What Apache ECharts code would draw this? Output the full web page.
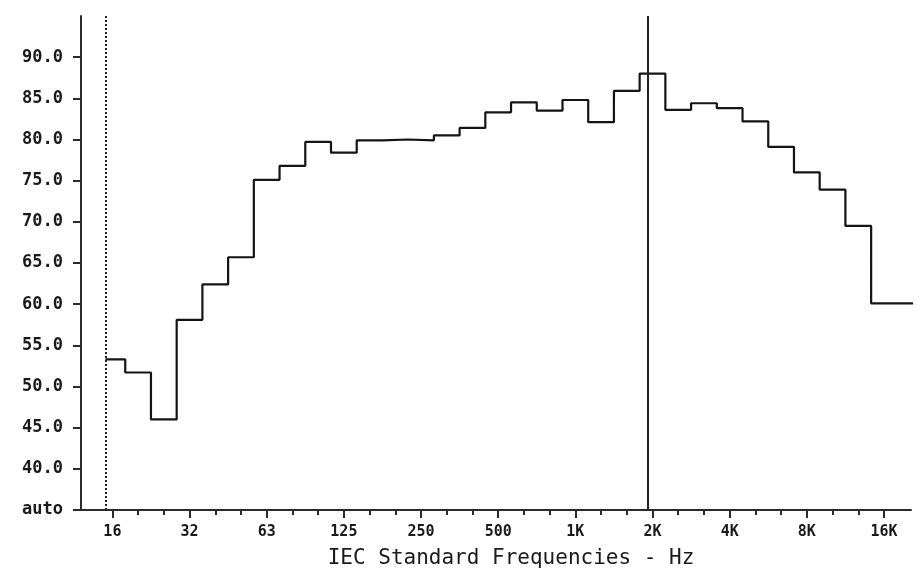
<!DOCTYPE html>
<html>
<head>
<meta charset="utf-8">
<title>IEC 1/3-octave spectrum</title>
<script src="https://cdn.jsdelivr.net/npm/echarts@6/dist/echarts.min.js"></script>
<style>
  html, body { margin: 0; padding: 0; background: #ffffff; }
  #chart { width: 920px; height: 577px; }
</style>
</head>
<body>
<div id="chart"></div>
<script>
// One-third-octave band centres (IEC nominal), lowest band first
const bandNames = ['16', '20', '25', '31.5', '40', '50', '63', '80', '100', '125',
  '160', '200', '250', '315', '400', '500', '630', '800', '1K', '1.25K',
  '1.6K', '2K', '2.5K', '3.15K', '4K', '5K', '6.3K', '8K', '10K', '12.5K',
  '16K', '20K'];

// Band levels, dB
const bandLevels = [53.3, 51.7, 46.0, 58.1, 62.4, 65.7, 75.1, 76.8, 79.7, 78.4,
  79.9, 80.0, 79.9, 80.5, 81.4, 83.3, 84.5, 83.5, 84.8, 82.1,
  85.9, 88.0, 83.6, 84.4, 83.8, 82.2, 79.1, 76.0, 73.9, 69.5,
  60.1, 60.1];

// Octave labels on the frequency axis (every third band, starting at 16 Hz)
const xTickLabels = ['16', '32', '63', '125', '250', '500', '1K', '2K', '4K', '8K', '16K'];

// Level axis labels; the bottom of the scale reads "auto"
const yTickValues = [35, 40, 45, 50, 55, 60, 65, 70, 75, 80, 85, 90];
const yTickLabels = ['auto', '40.0', '45.0', '50.0', '55.0', '60.0', '65.0', '70.0', '75.0', '80.0', '85.0', '90.0'];

// Cursor positions, in band units (0 = 16 Hz band)
const lowCursor = -0.27;
const highCursor = 20.8;

// Axis positions in band units
const majorTicks = xTickLabels.map((_, i) => i * 3);
const minorTicks = bandNames.map((_, i) => i).filter(i => i % 3 !== 0 && i <= 30);

// Each band is drawn as a flat step over its own width, starting at the low cursor
const stepPoints = [];
bandLevels.forEach((v, i) => {
  stepPoints.push([Math.max(i - 0.5, lowCursor), v]);
  stepPoints.push([i + 0.5, v]);
});

const axisColor = '#2b2b2b';
const X_MIN = -1.22, X_MAX = 31.05;

const chart = echarts.init(document.getElementById('chart'), null, { renderer: 'canvas' });

chart.setOption({
  animation: false,
  backgroundColor: '#ffffff',
  grid: { left: 81, right: 9, top: 16, bottom: 67, containLabel: false },
  xAxis: [
    {
      type: 'value',
      min: X_MIN,
      max: X_MAX,
      position: 'bottom',
      axisLine: { show: true, onZero: false, lineStyle: { color: axisColor, width: 2 } },
      axisTick: { show: true, customValues: majorTicks, length: 8, lineStyle: { color: axisColor, width: 2 } },
      axisLabel: {
        show: true,
        customValues: majorTicks,
        formatter: v => xTickLabels[Math.round(v / 3)],
        margin: 15,
        fontFamily: 'DejaVu Sans Mono',
        fontWeight: 'bold',
        fontSize: 15,
        color: '#1a1a1a'
      },
      splitLine: { show: false },
      name: 'IEC Standard Frequencies - Hz',
      nameLocation: 'middle',
      nameGap: 38,
      nameTextStyle: {
        fontFamily: 'DejaVu Sans Mono',
        fontSize: 21,
        color: '#1a1a1a',
        padding: [0, 0, 0, 30]
      }
    },
    {
      type: 'value',
      min: X_MIN,
      max: X_MAX,
      position: 'bottom',
      axisLine: { show: false, onZero: false },
      axisTick: { show: true, customValues: minorTicks, length: 5, lineStyle: { color: axisColor, width: 2 } },
      axisLabel: { show: false },
      splitLine: { show: false }
    }
  ],
  yAxis: {
    type: 'value',
    min: 35,
    max: 95,
    axisLine: { show: true, onZero: false, lineStyle: { color: axisColor, width: 2 } },
    axisTick: { show: true, customValues: yTickValues, length: 8, lineStyle: { color: axisColor, width: 2 } },
    axisLabel: {
      show: true,
      customValues: yTickValues,
      formatter: v => yTickLabels[yTickValues.indexOf(v)],
      margin: 18,
      fontFamily: 'DejaVu Sans Mono',
      fontWeight: 'bold',
      fontSize: 17,
      color: '#1a1a1a'
    },
    splitLine: { show: false }
  },
  series: [
    {
      type: 'line',
      xAxisIndex: 0,
      data: stepPoints,
      showSymbol: false,
      symbol: 'none',
      lineStyle: { color: '#141414', width: 2.2 },
      markLine: {
        silent: true,
        symbol: 'none',
        label: { show: false },
        data: [
          { xAxis: lowCursor, lineStyle: { color: '#222222', width: 2, type: [2, 2] } },
          { xAxis: highCursor, lineStyle: { color: '#222222', width: 2, type: 'solid' } }
        ]
      }
    }
  ]
});
</script>
</body>
</html>
